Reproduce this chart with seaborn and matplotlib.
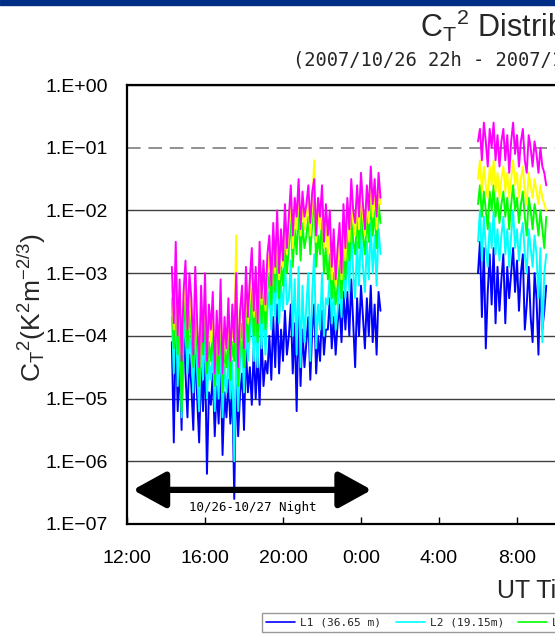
import numpy as np
import pandas as pd
import matplotlib.pyplot as plt
import seaborn as sns
from matplotlib.lines import Line2D
from matplotlib.patches import Rectangle

# sensor levels and colours
levels = ["L1 (36.65 m)", "L2 (19.15m)", "L3 (10.05m)", "L4 (5.05m)", "L5 (2.05m)"]
colors = ["#0000FF", "#00FFFF", "#00FF00", "#FFFF00", "#FF00FF"]

# sample times, hours from 10/26 00:00 UT (24 = 0:00 on 10/27), 6 min step
t_evening = np.round(np.arange(14.3, 25.05, 0.1), 1)
t_morning = np.round(np.arange(30.0, 33.55, 0.1), 1)

# log10(Ct^2)
L1_eve = [-4.1, -5.7, -3.8, -5.2, -4.4, -5.5, -3.6, -4.6, -5.3, -4.3,
          -4.8, -5.5, -4.1, -5.0, -5.7, -4.5, -5.2, -4.2, -6.2, -4.9,
          -5.1, -4.6, -5.6, -4.8, -5.4, -4.4, -5.9, -4.9, -5.3, -4.7,
          -5.4, -4.8, -6.6, -4.5, -5.6, -4.9, -4.6, -5.5, -4.2, -4.9,
          -4.5, -5.1, -4.2, -5.0, -4.3, -5.1, -4.0, -4.8, -4.4, -4.6,
          -4.0, -4.7, -3.7, -4.5, -3.5, -4.6, -3.9, -4.4, -3.6, -4.3,
          -4.0, -3.5, -4.6, -3.8, -5.2, -3.6, -4.8, -3.9, -4.5, -4.1,
          -3.7, -4.7, -3.9, -3.5, -4.6, -4.0, -4.4, -3.6, -4.3, -3.9,
          -3.9, -3.4, -4.2, -3.7, -4.3, -3.8, -3.5, -4.1, -3.3, -3.9,
          -3.3, -4.0, -3.1, -3.8, -4.5, -3.4, -4.0, -3.2, -3.7, -4.2,
          -3.4, -4.0, -3.2, -4.1, -3.5, -4.3, -3.3, -3.6]
L2_eve = [-3.7, -4.6, -3.4, -4.8, -3.9, -5.3, -4.1, -3.7, -4.6, -4.0,
          -4.3, -4.9, -3.8, -4.6, -5.2, -4.1, -4.7, -3.9, -5.0, -4.4,
          -4.7, -4.2, -5.2, -4.4, -5.0, -4.0, -5.3, -4.5, -4.9, -4.3,
          -5.0, -4.4, -6.0, -4.0, -5.2, -4.4, -4.1, -4.9, -3.8, -4.4,
          -4.0, -3.5, -4.4, -3.8, -4.5, -3.4, -4.2, -3.6, -4.3, -3.6,
          -3.3, -3.9, -3.0, -3.7, -2.8, -3.8, -3.2, -3.6, -2.8, -3.5,
          -3.4, -2.8, -4.0, -3.1, -4.3, -2.9, -4.5, -3.2, -4.1, -3.5,
          -3.0, -4.4, -3.3, -2.7, -4.2, -3.5, -3.9, -3.0, -4.0, -3.4,
          -3.5, -3.0, -3.8, -3.3, -3.9, -3.6, -3.1, -3.7, -2.7, -3.4,
          -2.6, -3.3, -2.3, -3.0, -3.4, -2.5, -3.2, -2.3, -2.9, -3.3,
          -2.5, -3.1, -2.2, -3.0, -2.4, -3.2, -2.3, -2.7]
L3_eve = [-3.4, -4.2, -3.1, -4.3, -3.6, -5.2, -3.8, -3.4, -4.2, -3.6,
          -4.0, -4.5, -3.5, -4.2, -4.8, -3.8, -4.3, -3.6, -4.6, -4.1,
          -4.4, -3.9, -4.8, -4.1, -4.6, -3.7, -4.9, -4.2, -4.5, -4.0,
          -4.7, -4.1, -4.4, -3.5, -4.8, -4.1, -3.8, -4.5, -3.5, -4.1,
          -3.7, -3.2, -4.0, -3.5, -4.1, -3.1, -3.8, -3.3, -3.9, -3.3,
          -3.0, -3.5, -2.7, -3.3, -2.5, -3.4, -2.9, -3.2, -2.4, -3.0,
          -2.6, -2.1, -2.9, -2.3, -2.7, -1.9, -2.8, -2.2, -2.6, -2.4,
          -2.1, -2.7, -2.2, -1.7, -2.9, -2.4, -2.7, -2.1, -3.0, -2.6,
          -3.1, -2.7, -3.4, -3.0, -3.5, -3.2, -2.8, -3.4, -2.5, -3.1,
          -2.3, -2.8, -2.0, -2.5, -2.7, -2.1, -2.6, -1.9, -2.4, -2.7,
          -2.1, -2.5, -1.8, -2.4, -2.0, -2.6, -1.9, -2.2]
L4_eve = [-3.2, -3.9, -2.9, -4.0, -3.4, -4.3, -3.5, -3.1, -3.9, -3.3,
          -3.7, -4.2, -3.2, -3.9, -4.5, -3.5, -4.0, -3.3, -4.3, -3.8,
          -4.1, -3.6, -4.6, -3.8, -4.3, -3.4, -4.6, -3.9, -4.2, -3.7,
          -4.4, -3.8, -4.1, -2.4, -4.5, -3.8, -3.5, -4.2, -3.2, -3.8,
          -3.4, -2.9, -3.7, -3.2, -3.8, -2.8, -3.5, -3.0, -3.6, -3.0,
          -2.7, -3.2, -2.4, -3.0, -2.2, -3.1, -2.6, -2.9, -2.1, -2.7,
          -2.3, -1.8, -2.6, -2.0, -2.3, -1.6, -2.4, -1.9, -2.3, -2.1,
          -1.8, -2.4, -1.9, -1.2, -2.5, -2.0, -2.3, -1.8, -2.6, -2.2,
          -2.7, -2.3, -3.1, -2.6, -3.2, -2.9, -2.5, -3.1, -2.2, -2.8,
          -2.0, -2.5, -1.7, -2.2, -2.4, -1.8, -2.3, -1.6, -2.1, -2.4,
          -1.8, -2.2, -1.5, -2.1, -1.7, -2.3, -1.6, -1.9]
L5_eve = [-2.9, -3.8, -2.5, -4.0, -3.1, -4.4, -3.3, -2.8, -3.9, -3.0,
          -3.4, -4.3, -2.9, -3.8, -4.5, -3.2, -4.1, -3.0, -4.4, -3.5,
          -3.9, -3.3, -4.6, -3.6, -4.3, -3.1, -4.6, -3.7, -4.2, -3.4,
          -4.4, -3.5, -4.1, -3.0, -4.5, -3.6, -3.2, -4.2, -2.9, -3.7,
          -3.1, -2.6, -3.6, -2.9, -3.8, -2.5, -3.4, -2.8, -3.5, -2.7,
          -2.4, -3.2, -2.2, -2.9, -2.0, -3.0, -2.3, -2.8, -1.9, -2.6,
          -2.1, -1.6, -2.4, -1.8, -2.1, -1.5, -2.3, -1.7, -2.1, -1.9,
          -1.6, -2.2, -1.7, -1.5, -2.4, -1.8, -2.1, -1.6, -2.5, -1.9,
          -2.4, -2.0, -2.9, -2.3, -3.1, -2.6, -2.2, -3.0, -1.9, -2.6,
          -1.8, -2.3, -1.5, -2.0, -2.2, -1.6, -2.1, -1.4, -1.9, -2.3,
          -1.6, -2.0, -1.3, -1.9, -1.5, -2.1, -1.4, -1.8]

L1_mor = [-3.0, -2.5, -3.7, -2.6, -4.2, -3.3, -2.7, -3.5, -2.6, -3.8,
          -2.9, -3.6, -3.1, -2.7, -3.8, -2.9, -3.4, -3.0, -2.6, -3.3,
          -2.8, -3.6, -3.0, -2.7, -3.9, -3.5, -2.9, -3.7, -4.1, -3.0,
          -3.4, -4.3, -3.1, -3.9, -3.6, -3.2]
L2_mor = [-2.5, -2.0, -2.8, -2.1, -2.6, -2.9, -2.2, -2.6, -2.0, -2.7,
          -2.3, -2.8, -2.4, -2.1, -2.7, -2.3, -2.9, -2.4, -2.0, -2.6,
          -2.3, -2.8, -2.4, -2.2, -2.7, -3.0, -2.3, -2.6, -2.9, -2.4,
          -2.7, -3.4, -2.6, -4.1, -3.0, -2.7]
L3_mor = [-1.9, -1.6, -2.1, -1.7, -2.0, -2.3, -1.7, -2.0, -1.6, -2.1,
          -1.8, -2.2, -1.9, -1.7, -2.1, -1.8, -2.3, -1.9, -1.6, -2.0,
          -1.8, -2.2, -1.9, -1.7, -2.1, -2.4, -1.8, -2.0, -2.3, -1.9,
          -2.1, -2.4, -2.0, -2.3, -2.6, -2.1]
L4_mor = [-1.5, -1.2, -1.7, -1.3, -1.6, -1.8, -1.3, -1.6, -1.2, -1.7,
          -1.4, -1.8, -1.5, -1.3, -1.7, -1.4, -1.8, -1.5, -1.2, -1.6,
          -1.4, -1.8, -1.5, -1.3, -1.7, -1.9, -1.4, -1.6, -1.8, -1.5,
          -1.7, -1.9, -1.6, -1.8, -1.9, -2.0]
L5_mor = [-0.9, -0.7, -1.2, -0.6, -0.9, -1.3, -0.7, -1.0, -0.6, -1.2,
          -0.8, -1.3, -0.9, -0.7, -1.2, -0.8, -1.4, -0.9, -0.6, -1.1,
          -0.8, -1.3, -0.9, -0.7, -1.2, -1.4, -0.8, -1.0, -1.3, -0.9,
          -1.1, -1.4, -1.0, -1.3, -1.4, -1.6]

evening = [L1_eve, L2_eve, L3_eve, L4_eve, L5_eve]
morning = [L1_mor, L2_mor, L3_mor, L4_mor, L5_mor]

y_ticks = [1e0, 1e-1, 1e-2, 1e-3, 1e-4, 1e-5, 1e-6, 1e-7]
y_labels = ["1.E+00", "1.E\u221201", "1.E\u221202", "1.E\u221203", "1.E\u221204",
            "1.E\u221205", "1.E\u221206", "1.E\u221207"]
x_ticks = [12, 16, 20, 24, 28, 32, 36]
x_labels = ["12:00", "16:00", "20:00", "0:00", "4:00", "8:00", "12:00"]

night_start, night_end, night_level = 12.3, 24.55, 3.5e-7

rows = []
for name, eve, mor in zip(levels, evening, morning):
    for t, v in zip(t_evening, eve):
        rows.append({"hour": t, "ct2": 10.0 ** v, "level": name, "block": "eve"})
    for t, v in zip(t_morning, mor):
        rows.append({"hour": t, "ct2": 10.0 ** v, "level": name, "block": "mor"})
df = pd.DataFrame(rows)

sns.set_theme(style="white")
plt.rcParams['font.family'] = ['Liberation Sans', 'DejaVu Sans']
plt.rcParams['mathtext.fontset'] = 'custom'
plt.rcParams['mathtext.rm'] = 'Liberation Sans'
plt.rcParams['mathtext.it'] = 'Liberation Sans:italic'
mono = ['DejaVu Sans Mono']

fig = plt.figure(figsize=(5.55, 6.35), dpi=100)
ax = fig.add_axes([127 / 555, 111 / 635, 468 / 555, 439 / 635])

sns.lineplot(data=df, x="hour", y="ct2", hue="level", hue_order=levels,
             palette=colors, units="block", estimator=None, lw=1.4,
             legend=False, ax=ax)

ax.set_yscale("log")
ax.set_ylim(1e-7, 1e0)
ax.set_xlim(12, 36)
ax.set_yticks(y_ticks)
ax.set_yticklabels(y_labels)
ax.yaxis.set_minor_locator(plt.NullLocator())
ax.set_xticks(x_ticks)
ax.set_xticklabels(x_labels)
ax.set_xlabel("")
ax.set_ylabel("")
ax.tick_params(axis="y", length=0, pad=14, labelsize=14, colors="black")
ax.tick_params(axis="x", direction="in", length=5, width=1, pad=19,
               labelsize=14, colors="black", bottom=True)

ax.grid(axis="y", color="#404040", lw=1)
ax.grid(axis="x", visible=False)
for i, gl in enumerate(ax.get_ygridlines()):
    if i == 1:
        gl.set_color("#909090")
        gl.set_linewidth(1.4)
        gl.set_dashes([7, 4])
for s in ax.spines.values():
    s.set_color("black")
    s.set_linewidth(1.6)

# night arrow
ax.annotate("", xy=(night_start, night_level), xytext=(night_end, night_level),
            arrowprops=dict(arrowstyle="<|-|>,head_length=1.0,head_width=0.55",
                            mutation_scale=20, lw=4.5, color="black",
                            shrinkA=0, shrinkB=0))
ax.text((night_start + night_end) / 2, 1.8e-7, "10/26-10/27 Night",
        ha="center", va="center", fontsize=9, color="black", family=mono)

# header bar
fig.patches.append(Rectangle((0, 1 - 5 / 635), 1, 5 / 635, transform=fig.transFigure,
                             color="#002D85", zorder=5))

fig.text(420 / 555, 1 - 37 / 635, r"C$_\mathregular{T}$$^\mathregular{2}$ Distribution",
         fontsize=22, ha="left", va="baseline")
fig.text(293 / 555, 1 - 66 / 635, "(2007/10/26 22h - 2007/10/27 22h)",
         fontsize=13.5, ha="left", va="baseline", family=mono)
fig.text(32 / 555, 1 - 308 / 635,
         r"C$_\mathregular{T}$$^\mathregular{2}$(K$^\mathregular{2}$m$^\mathregular{-2/3}$)",
         fontsize=19, rotation=90, ha="center", va="center")
fig.text(497 / 555, 1 - 598 / 635, "UT Time", fontsize=18, ha="left", va="baseline")

handles = [Line2D([0], [0], color=c, lw=1.2) for c in colors]
fig.legend(handles, levels, loc="upper left", bbox_to_anchor=(262 / 555, 1 - 613 / 635),
           ncol=5, prop={"family": mono, "size": 8}, frameon=True, fancybox=False,
           edgecolor="#808080", handlelength=2.6, handletextpad=0.45, columnspacing=1.3,
           borderaxespad=0, borderpad=0.4)

fig.savefig("out.png", dpi=100)
